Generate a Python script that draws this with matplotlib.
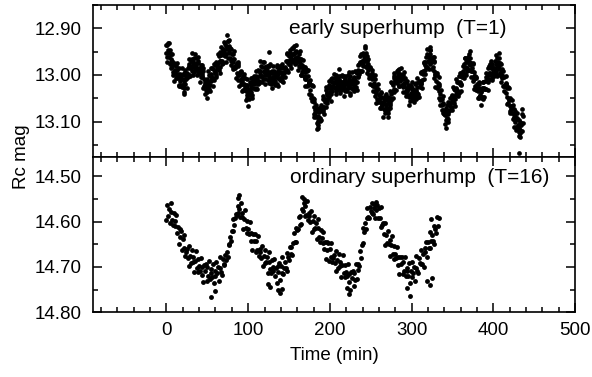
import matplotlib

matplotlib.use("Agg")
import matplotlib.pyplot as plt
from matplotlib.ticker import FormatStrFormatter, MultipleLocator

plt.rcParams["font.family"] = ["Liberation Sans", "DejaVu Sans"]

# --- early superhump (T=1): minutes since start, Rc readings ---
early_t = [
    0, 1, 2, 3, 4, 5, 6, 7, 8, 9, 10, 11, 12, 13, 14, 15, 16, 17, 18, 19,
    20, 21, 22, 23, 24, 25, 26, 27, 28, 29, 30, 31, 32, 33, 34, 35, 36, 37, 38, 39,
    40, 41, 42, 43, 44, 45, 46, 47, 48, 49, 50, 51, 52, 53, 54, 55, 56, 57, 58, 59,
    60, 61, 62, 63, 64, 65, 66, 67, 68, 69, 70, 71, 72, 73, 74, 75, 76, 77, 78, 79,
    80, 81, 82, 83, 84, 85, 86, 87, 88, 89, 90, 91, 92, 93, 94, 95, 96, 97, 98, 99,
    100, 101, 102, 103, 104, 105, 106, 107, 108, 109, 110, 111, 112, 113, 114, 115, 116, 117, 118, 119,
    120, 121, 122, 123, 124, 125, 126, 127, 128, 129, 130, 131, 132, 133, 134, 135, 136, 137, 138, 139,
    140, 141, 142, 143, 144, 145, 146, 147, 148, 149, 150, 151, 152, 153, 154, 155, 156, 157, 158, 159,
    160, 161, 162, 163, 164, 165, 166, 167, 168, 169, 170, 171, 172, 173, 174, 175, 176, 177, 178, 179,
    180, 181, 182, 183, 184, 185, 186, 187, 188, 189, 190, 191, 192, 193, 194, 195, 196, 197, 198, 199,
    200, 201, 202, 203, 204, 205, 206, 207, 208, 209, 210, 211, 212, 213, 214, 215, 216, 217, 218, 219,
    220, 221, 222, 223, 224, 225, 226, 227, 228, 229, 230, 231, 232, 233, 234, 235, 236, 237, 238, 239,
    240, 241, 242, 243, 244, 245, 246, 247, 248, 249, 250, 251, 252, 253, 254, 255, 256, 257, 258, 259,
    260, 261, 262, 263, 264, 265, 266, 267, 268, 269, 270, 271, 272, 273, 274, 275, 276, 277, 278, 279,
    280, 281, 282, 283, 284, 285, 286, 287, 288, 289, 290, 291, 292, 293, 294, 295, 296, 297, 298, 299,
    300, 301, 302, 303, 304, 305, 306, 307, 308, 309, 310, 311, 312, 313, 314, 315, 316, 317, 318, 319,
    320, 321, 322, 323, 324, 325, 326, 327, 328, 329, 330, 331, 332, 333, 334, 335, 336, 337, 338, 339,
    340, 341, 342, 343, 344, 345, 346, 347, 348, 349, 350, 351, 352, 353, 354, 355, 356, 357, 358, 359,
    360, 361, 362, 363, 364, 365, 366, 367, 368, 369, 370, 371, 372, 373, 374, 375, 376, 377, 378, 379,
    380, 381, 382, 383, 384, 385, 386, 387, 388, 389, 390, 391, 392, 393, 394, 395, 396, 397, 398, 399,
    400, 401, 402, 403, 404, 405, 406, 407, 408, 409, 410, 411, 412, 413, 414, 415, 416, 417, 418, 419,
    420, 421, 422, 423, 424, 425, 426, 427, 428, 429, 430, 431, 432, 433, 434, 435, 436,
]
early_mag_a = [
    12.953, 12.936, 12.953, 12.951, 12.977, 12.965, 12.954, 12.983, 12.993, 12.977,
    12.990, 12.997, 12.981, 13.007, 12.997, 13.022, 12.998, 13.009, 13.000, 13.026,
    13.009, 13.019, 12.996, 13.019, 13.007, 12.998, 13.005, 12.981, 13.001, 12.981,
    12.986, 12.965, 12.978, 12.972, 12.993, 12.978, 12.964, 12.987, 12.991, 12.974,
    12.985, 12.993, 12.978, 13.005, 12.997, 13.027, 13.008, 13.020, 13.012, 13.034,
    13.014, 13.023, 12.999, 13.022, 13.010, 13.000, 13.007, 12.987, 13.011, 12.991,
    12.996, 12.973, 12.985, 12.974, 12.990, 12.970, 12.950, 12.970, 12.971, 12.947,
    12.952, 12.954, 12.934, 12.954, 12.939, 12.963, 12.938, 12.950, 12.942, 12.970,
    12.956, 12.972, 12.956, 12.986, 12.982, 12.980, 12.995, 12.981, 13.011, 12.998,
    13.010, 12.994, 13.013, 13.009, 13.033, 13.020, 13.007, 13.035, 13.043, 13.025,
    13.035, 13.037, 13.016, 13.037, 13.022, 13.042, 13.013, 13.020, 13.008, 13.028,
    13.006, 13.014, 12.989, 13.012, 13.000, 12.993, 13.002, 12.983, 13.008, 12.991,
    13.000, 12.982, 12.998, 12.990, 13.010, 12.995, 12.980, 13.006, 13.013, 12.995,
    13.005, 13.009, 12.991, 13.013, 12.999, 13.019, 12.991, 12.998, 12.985, 13.011,
    12.994, 13.004, 12.982, 13.005, 12.994, 12.985, 12.992, 12.969, 12.991, 12.971,
    12.976, 12.953, 12.965, 12.955, 12.973, 12.955, 12.937, 12.963, 12.969, 12.951,
    12.962, 12.969, 12.954, 12.982, 12.975, 13.001, 12.978, 12.990, 12.982, 13.009,
    12.994, 13.009, 12.992, 13.022, 13.017, 13.016, 13.032, 13.022, 13.056, 13.049,
    13.068, 13.057, 13.081, 13.078, 13.103, 13.087, 13.072, 13.092, 13.093, 13.068,
    13.072, 13.073, 13.051, 13.069, 13.052, 13.069, 13.038, 13.043, 13.028, 13.047,
    13.024, 13.033, 13.009, 13.034, 13.024, 13.017, 13.027, 13.008, 13.034, 13.016,
    13.023, 13.003, 13.018, 13.012, 13.033, 13.017, 13.002, 13.025, 13.029, 13.008,
    13.015, 13.019, 13.001, 13.026, 13.015, 13.038, 13.013, 13.020, 13.008, 13.030,
    13.009, 13.018, 12.994, 13.015, 13.002, 12.991, 12.997, 12.972, 12.991, 12.969,
    12.973, 12.952, 12.965, 12.960, 12.983, 12.971, 12.960, 12.990, 13.001, 12.986,
    13.000, 13.009, 12.996, 13.024, 13.017, 13.044, 13.023, 13.036, 13.030, 13.057,
    13.042, 13.057, 13.039, 13.068, 13.062, 13.059, 13.072, 13.054, 13.081, 13.063,
    13.070, 13.048, 13.061, 13.049, 13.065, 13.041, 13.017, 13.034, 13.031, 13.006,
    13.010, 13.012, 12.991, 13.013, 12.999, 13.023, 12.998, 13.009, 13.000, 13.026,
    13.009, 13.024, 13.006, 13.036, 13.032, 13.029, 13.042, 13.027, 13.056, 13.039,
    13.048, 13.027, 13.041, 13.032, 13.050, 13.033, 13.017, 13.039, 13.041, 13.016,
    13.020, 13.018, 12.994, 13.011, 12.992, 13.008, 12.975, 12.978, 12.962, 12.982,
    12.959, 12.969, 12.946, 12.974, 12.967, 12.966, 12.982, 12.972, 13.006, 12.997,
    13.013, 13.001, 13.023, 13.023, 13.050, 13.041, 13.032, 13.064, 13.076, 13.063,
    13.078, 13.086, 13.071, 13.092, 13.077, 13.094, 13.063, 13.066, 13.050, 13.069,
    13.046, 13.054, 13.029, 13.052, 13.040, 13.030, 13.037, 13.015, 13.038, 13.016,
    13.020, 12.995, 13.005, 12.992, 13.007, 12.985, 12.964, 12.985, 12.986, 12.965,
    12.972, 12.979, 12.964, 12.992, 12.985, 13.013, 12.993, 13.007, 13.002, 13.032,
    13.019, 13.035, 13.019, 13.048, 13.042, 13.037, 13.049, 13.028, 13.051, 13.028,
    13.030, 13.004, 13.013, 13.000, 13.015, 12.996, 12.977, 12.999, 13.001, 12.980,
    12.988, 12.991, 12.971, 12.993, 12.979, 13.000, 12.973, 12.984, 12.975, 13.003,
    12.989, 13.007, 12.992, 13.024, 13.022, 13.022, 13.039, 13.028, 13.061, 13.051,
    13.066, 13.052, 13.073, 13.070, 13.095, 13.083, 13.072, 13.101, 13.111, 13.095,
    13.108, 13.113, 13.096, 13.117, 13.102, 13.119, 13.088,
]
early_mag_b = [
    12.936, 12.962, 12.947, 12.962, 12.947, 12.977, 12.973, 12.970, 12.999, 12.974,
    12.995, 12.992, 13.007, 12.990, 13.003, 12.986, 13.013, 13.004, 13.021, 13.000,
    13.021, 13.012, 13.027, 12.999, 13.009, 12.996, 12.984, 13.001, 12.966, 12.984,
    12.969, 12.991, 12.972, 12.983, 12.963, 12.990, 12.983, 12.974, 12.997, 12.971,
    12.990, 12.988, 13.004, 12.988, 13.003, 12.991, 13.023, 13.015, 13.033, 13.008,
    13.026, 13.016, 13.030, 13.002, 13.012, 12.998, 12.986, 13.007, 12.976, 12.994,
    12.979, 12.999, 12.979, 12.985, 12.960, 12.982, 12.969, 12.957, 12.977, 12.944,
    12.957, 12.949, 12.960, 12.937, 12.945, 12.927, 12.953, 12.945, 12.963, 12.944,
    12.968, 12.965, 12.987, 12.966, 12.984, 12.978, 12.974, 13.001, 12.976, 13.001,
    12.993, 13.020, 13.007, 13.020, 13.003, 13.032, 13.026, 13.022, 13.049, 13.022,
    13.040, 13.032, 13.042, 13.020, 13.028, 13.006, 13.028, 13.015, 13.029, 13.002,
    13.018, 13.007, 13.020, 12.992, 13.002, 12.991, 12.981, 13.003, 12.973, 12.994,
    12.983, 13.008, 12.992, 13.001, 12.980, 13.007, 12.999, 12.993, 13.019, 12.992,
    13.010, 13.004, 13.017, 12.996, 13.005, 12.983, 13.006, 12.993, 13.006, 12.985,
    13.006, 12.997, 13.013, 12.985, 12.996, 12.983, 12.971, 12.989, 12.956, 12.974,
    12.959, 12.979, 12.959, 12.966, 12.943, 12.967, 12.956, 12.950, 12.975, 12.948,
    12.967, 12.964, 12.980, 12.965, 12.981, 12.965, 12.993, 12.985, 13.003, 12.983,
    13.006, 13.002, 13.023, 13.002, 13.019, 13.014, 13.011, 13.042, 13.021, 13.052,
    13.051, 13.083, 13.075, 13.089, 13.073, 13.099, 13.091, 13.079, 13.099, 13.065,
    13.077, 13.068, 13.077, 13.052, 13.058, 13.033, 13.053, 13.038, 13.049, 13.021,
    13.036, 13.026, 13.040, 13.014, 13.026, 13.015, 13.006, 13.028, 12.999, 13.019,
    13.006, 13.029, 13.012, 13.023, 13.003, 13.029, 13.021, 13.012, 13.035, 13.005,
    13.020, 13.014, 13.027, 13.009, 13.021, 13.002, 13.028, 13.015, 13.029, 13.004,
    13.021, 13.011, 13.025, 12.995, 13.004, 12.989, 12.976, 12.992, 12.956, 12.972,
    12.956, 12.978, 12.959, 12.971, 12.953, 12.983, 12.979, 12.977, 13.007, 12.983,
    13.005, 13.004, 13.022, 13.007, 13.023, 13.008, 13.038, 13.031, 13.051, 13.031,
    13.054, 13.050, 13.070, 13.048, 13.064, 13.057, 13.051, 13.074, 13.046, 13.066,
    13.053, 13.074, 13.055, 13.060, 13.035, 13.053, 13.036, 13.021, 13.037, 13.003,
    13.015, 13.007, 13.017, 12.996, 13.005, 12.987, 13.013, 13.004, 13.021, 13.000,
    13.021, 13.017, 13.037, 13.016, 13.034, 13.027, 13.021, 13.047, 13.021, 13.042,
    13.031, 13.053, 13.035, 13.043, 13.020, 13.045, 13.036, 13.026, 13.047, 13.013,
    13.025, 13.013, 13.020, 12.994, 12.998, 12.972, 12.990, 12.973, 12.983, 12.956,
    12.971, 12.962, 12.977, 12.954, 12.969, 12.964, 12.961, 12.992, 12.971, 13.000,
    12.996, 13.027, 13.017, 13.034, 13.020, 13.053, 13.051, 13.051, 13.082, 13.060,
    13.083, 13.081, 13.097, 13.075, 13.083, 13.058, 13.078, 13.061, 13.071, 13.043,
    13.058, 13.047, 13.060, 13.032, 13.042, 13.028, 13.016, 13.035, 13.003, 13.019,
    13.003, 13.021, 12.999, 13.003, 12.977, 12.997, 12.983, 12.972, 12.992, 12.962,
    12.977, 12.974, 12.990, 12.975, 12.991, 12.977, 13.008, 13.002, 13.023, 13.006,
    13.031, 13.028, 13.050, 13.028, 13.044, 13.035, 13.028, 13.048, 13.016, 13.031,
    13.013, 13.030, 13.007, 13.011, 12.985, 13.008, 12.996, 12.986, 13.007, 12.977,
    12.993, 12.986, 12.997, 12.976, 12.985, 12.964, 12.988, 12.979, 12.996, 12.977,
    13.001, 13.000, 13.023, 13.004, 13.024, 13.020, 13.018, 13.048, 13.026, 13.054,
    13.049, 13.078, 13.067, 13.081, 13.065, 13.095, 13.091, 13.088, 13.117, 13.092,
    13.113, 13.108, 13.122, 13.100, 13.108, 13.083, 13.103,
]
# readings at the edges of the band, every other minute
early_edge_t = [
    1, 3, 5, 7, 9, 11, 13, 15, 17, 19, 21, 23, 25, 27, 29, 31, 33, 35, 37, 39,
    41, 43, 45, 47, 49, 51, 53, 55, 57, 59, 61, 63, 65, 67, 69, 71, 73, 75, 77, 79,
    81, 83, 85, 87, 89, 91, 93, 95, 97, 99, 101, 103, 105, 107, 109, 111, 113, 115, 117, 119,
    121, 123, 125, 127, 129, 131, 133, 135, 137, 139, 141, 143, 145, 147, 149, 151, 153, 155, 157, 159,
    161, 163, 165, 167, 169, 171, 173, 175, 177, 179, 181, 183, 185, 187, 189, 191, 193, 195, 197, 199,
    201, 203, 205, 207, 209, 211, 213, 215, 217, 219, 221, 223, 225, 227, 229, 231, 233, 235, 237, 239,
    241, 243, 245, 247, 249, 251, 253, 255, 257, 259, 261, 263, 265, 267, 269, 271, 273, 275, 277, 279,
    281, 283, 285, 287, 289, 291, 293, 295, 297, 299, 301, 303, 305, 307, 309, 311, 313, 315, 317, 319,
    321, 323, 325, 327, 329, 331, 333, 335, 337, 339, 341, 343, 345, 347, 349, 351, 353, 355, 357, 359,
    361, 363, 365, 367, 369, 371, 373, 375, 377, 379, 381, 383, 385, 387, 389, 391, 393, 395, 397, 399,
    401, 403, 405, 407, 409, 411, 413, 415, 417, 419, 421, 423, 425, 427, 429, 431, 433, 435,
]
early_edge_mag = [
    12.972, 12.931, 12.985, 12.956, 13.013, 12.976, 12.975, 13.024, 13.024, 12.986,
    13.036, 12.990, 13.027, 12.977, 13.002, 12.953, 13.001, 12.955, 12.999, 12.962,
    13.016, 12.979, 12.985, 13.040, 13.037, 12.991, 13.034, 12.985, 13.023, 12.977,
    13.005, 12.955, 12.996, 12.939, 12.974, 12.929, 12.972, 12.927, 12.926, 12.978,
    12.983, 12.949, 13.006, 12.973, 13.024, 12.991, 13.034, 12.998, 13.053, 13.009,
    13.051, 13.007, 13.050, 13.002, 12.992, 13.030, 13.018, 12.970, 13.016, 12.973,
    13.019, 12.980, 13.017, 12.976, 13.028, 12.980, 13.022, 12.979, 13.024, 12.981,
    12.976, 13.016, 13.005, 12.953, 12.994, 12.946, 12.985, 12.942, 12.977, 12.936,
    12.989, 12.948, 13.000, 12.968, 13.023, 12.987, 12.989, 13.041, 13.049, 13.023,
    13.091, 13.064, 13.114, 13.071, 13.097, 13.045, 13.084, 13.025, 13.060, 13.013,
    13.055, 13.007, 12.998, 13.040, 13.033, 12.988, 13.039, 13.000, 13.044, 13.002,
    13.035, 12.993, 13.043, 12.994, 13.035, 12.992, 13.032, 12.978, 12.960, 12.991,
    12.980, 12.938, 12.995, 12.965, 13.020, 12.990, 13.035, 13.001, 13.059, 13.019,
    13.070, 13.037, 13.090, 13.048, 13.041, 13.081, 13.070, 13.016, 13.050, 12.996,
    13.033, 12.989, 13.024, 12.984, 13.037, 12.994, 13.044, 13.012, 13.065, 13.023,
    13.016, 13.058, 13.051, 13.006, 13.047, 12.995, 13.027, 12.974, 12.997, 12.945,
    12.988, 12.939, 12.988, 12.962, 13.025, 12.996, 13.005, 13.064, 13.074, 13.045,
    13.104, 13.064, 13.100, 13.050, 13.076, 13.025, 13.066, 13.009, 13.044, 12.996,
    13.034, 12.980, 12.964, 13.000, 12.990, 12.948, 13.005, 12.975, 13.031, 13.004,
    13.050, 13.014, 13.065, 13.014, 13.047, 12.995, 13.032, 12.981, 12.970, 13.010,
    13.003, 12.957, 13.003, 12.964, 13.015, 12.987, 13.034, 13.002, 13.063, 13.027,
    13.082, 13.054, 13.112, 13.078, 13.081, 13.130, 13.124, 13.073,
]
early_extra_t = [2, 21, 49, 74, 100, 125, 184, 186, 243, 271, 323, 342, 370, 407, 431, 433]
early_extra_mag = [12.931, 13.040, 13.050, 12.915, 13.066, 12.951, 13.115, 13.108,
                   12.943, 13.090, 12.947, 13.114, 12.954, 12.952, 13.167, 13.133]

# --- ordinary superhump (T=16) ---
ordinary_t = [
    0, 1, 2, 3, 4, 5, 6, 7, 8, 9, 10, 11, 12, 13, 14, 15, 16, 17, 18, 19,
    20, 21, 22, 23, 24, 25, 26, 27, 28, 29, 30, 31, 32, 33, 34, 35, 36, 37, 38, 39,
    40, 41, 42, 43, 44, 45, 46, 47, 48, 49, 50, 51, 52, 53, 54, 55, 56, 57, 58, 59,
    60, 61, 62, 63, 64, 65, 66, 67, 68, 69, 70, 71, 72, 73, 74, 75, 76, 77, 78, 79,
    80, 81, 82, 83, 84, 85, 86, 87, 88, 89, 90, 91, 92, 93, 94, 95, 96, 97, 98, 99,
    100, 101, 102, 103, 104, 105, 106, 107, 108, 109, 110, 111, 112, 113, 114, 115, 116, 117, 118, 119,
    120, 121, 122, 123, 124, 125, 126, 127, 128, 129, 130, 131, 132, 133, 134, 135, 136, 137, 138, 139,
    140, 141, 142, 143, 144, 145, 146, 147, 148, 149, 150, 151, 152, 153, 154, 155, 156, 157, 158, 159,
    160, 161, 162, 163, 164, 165, 166, 167, 168, 169, 170, 171, 172, 173, 174, 175, 176, 177, 178, 179,
    180, 181, 182, 183, 184, 185, 186, 187, 188, 189, 190, 191, 192, 193, 194, 195, 196, 197, 198, 199,
    200, 201, 202, 203, 204, 205, 206, 207, 208, 209, 210, 211, 212, 213, 214, 215, 216, 217, 218, 219,
    220, 221, 222, 223, 224, 225, 226, 227, 228, 229, 230, 231, 232, 233, 234, 235, 236, 237, 238, 239,
    240, 241, 242, 243, 244, 245, 246, 247, 248, 249, 250, 251, 252, 253, 254, 255, 256, 257, 258, 259,
    260, 261, 262, 263, 264, 265, 266, 267, 268, 269, 270, 271, 272, 273, 274, 275, 276, 277, 278, 279,
    280, 281, 282, 283, 284, 285, 286, 287, 288, 289, 290, 291, 292, 293, 294, 295, 296, 297, 298, 299,
    300, 301, 302, 303, 304, 305, 306, 307, 308, 309, 310, 311, 312, 313, 314, 315, 316, 317, 318, 319,
    320, 321, 322, 323, 324, 325, 326, 327, 328, 329, 330, 331, 332, 333,
]
ordinary_mag = [
    14.596, 14.563, 14.587, 14.572, 14.603, 14.579, 14.558, 14.597, 14.608, 14.581,
    14.599, 14.610, 14.585, 14.626, 14.612, 14.650, 14.616, 14.634, 14.621, 14.662,
    14.638, 14.659, 14.630, 14.675, 14.667, 14.661, 14.680, 14.654, 14.699, 14.675,
    14.691, 14.662, 14.689, 14.678, 14.712, 14.686, 14.664, 14.702, 14.712, 14.683,
    14.699, 14.708, 14.680, 14.718, 14.700, 14.734, 14.696, 14.710, 14.693, 14.730,
    14.701, 14.719, 14.686, 14.726, 14.714, 14.705, 14.722, 14.693, 14.735, 14.708,
    14.721, 14.689, 14.713, 14.700, 14.731, 14.703, 14.677, 14.712, 14.718, 14.683,
    14.693, 14.695, 14.673, 14.684, 14.668, 14.678, 14.651, 14.650, 14.633, 14.642,
    14.620, 14.620, 14.595, 14.607, 14.593, 14.583, 14.586, 14.566, 14.582, 14.572,
    14.589, 14.560, 14.589, 14.580, 14.617, 14.594, 14.574, 14.614, 14.626, 14.599,
    14.617, 14.628, 14.602, 14.642, 14.626, 14.662, 14.627, 14.643, 14.628, 14.667,
    14.642, 14.662, 14.632, 14.675, 14.666, 14.660, 14.680, 14.654, 14.699, 14.675,
    14.691, 14.662, 14.689, 14.679, 14.713, 14.688, 14.666, 14.704, 14.714, 14.685,
    14.701, 14.709, 14.682, 14.719, 14.702, 14.736, 14.698, 14.711, 14.692, 14.728,
    14.698, 14.713, 14.678, 14.716, 14.702, 14.689, 14.703, 14.670, 14.709, 14.678,
    14.684, 14.657, 14.671, 14.655, 14.673, 14.648, 14.625, 14.644, 14.644, 14.615,
    14.619, 14.617, 14.590, 14.608, 14.588, 14.606, 14.573, 14.577, 14.560, 14.587,
    14.566, 14.585, 14.554, 14.597, 14.588, 14.582, 14.602, 14.576, 14.623, 14.599,
    14.616, 14.587, 14.614, 14.604, 14.638, 14.615, 14.595, 14.634, 14.646, 14.619,
    14.637, 14.647, 14.622, 14.661, 14.646, 14.682, 14.646, 14.662, 14.647, 14.686,
    14.660, 14.679, 14.648, 14.690, 14.680, 14.673, 14.692, 14.665, 14.710, 14.685,
    14.702, 14.672, 14.699, 14.688, 14.722, 14.696, 14.674, 14.713, 14.723, 14.695,
    14.711, 14.721, 14.694, 14.733, 14.716, 14.750, 14.712, 14.725, 14.708, 14.743,
    14.713, 14.728, 14.694, 14.727, 14.706, 14.693, 14.697, 14.664, 14.681, 14.651,
    14.647, 14.615, 14.623, 14.603, 14.616, 14.592, 14.570, 14.590, 14.591, 14.568,
    14.577, 14.580, 14.559, 14.583, 14.569, 14.592, 14.563, 14.574, 14.564, 14.591,
    14.570, 14.593, 14.567, 14.613, 14.607, 14.604, 14.627, 14.603, 14.652, 14.629,
    14.648, 14.620, 14.649, 14.640, 14.676, 14.652, 14.632, 14.671, 14.682, 14.654,
    14.671, 14.681, 14.656, 14.695, 14.679, 14.715, 14.678, 14.694, 14.678, 14.716,
    14.690, 14.709, 14.679, 14.720, 14.710, 14.702, 14.720, 14.692, 14.735, 14.709,
    14.723, 14.690, 14.714, 14.700, 14.731, 14.702, 14.675, 14.709, 14.714, 14.680,
    14.691, 14.694, 14.662, 14.694, 14.672, 14.701, 14.658, 14.667, 14.646, 14.678,
    14.645, 14.658, 14.622, 14.658, 14.642, 14.629, 14.643, 14.610, 14.649, 14.617,
    14.626, 14.589, 14.609, 14.591,
]
ordinary_extra_t = [55, 60, 87, 89, 124, 127, 137, 139, 141, 166, 168, 221, 224,
                    254, 257, 294, 298, 319, 322, 325, 324]
ordinary_extra_mag = [14.766, 14.754, 14.549, 14.541, 14.737, 14.744, 14.751, 14.757,
                      14.749, 14.545, 14.551, 14.747, 14.759, 14.562, 14.556, 14.747,
                      14.764, 14.731, 14.739, 14.724, 14.594]

LABEL_SIZE = 13.5
NOTE_SIZE = 15


def _style(ax, ylim):
    ax.set_xlim(-90, 500)
    ax.set_ylim(*ylim)
    ax.xaxis.set_major_locator(MultipleLocator(100))
    ax.xaxis.set_minor_locator(MultipleLocator(20))
    ax.yaxis.set_major_locator(MultipleLocator(0.1))
    ax.yaxis.set_minor_locator(MultipleLocator(0.05))
    ax.yaxis.set_major_formatter(FormatStrFormatter("%.2f"))
    ax.tick_params(which="both", direction="in", top=True, right=True,
                   width=1.1, labelsize=LABEL_SIZE)
    ax.tick_params(which="major", length=6.5)
    ax.tick_params(which="minor", length=3.5)
    ax.tick_params(axis="y", pad=8)
    ax.tick_params(axis="x", pad=7)
    for spine in ax.spines.values():
        spine.set_linewidth(1.2)


def _dots(ax, t, mag, size):
    ax.plot(t, mag, "o", ls="none", ms=size, color="black", mew=0)


fig = plt.figure(figsize=(5.92, 3.77), dpi=100)
ax_top = fig.add_axes([0.157, 0.5844, 0.8142, 0.4024])
ax_bot = fig.add_axes([0.157, 0.1716, 0.8142, 0.4127])

_dots(ax_top, early_t, early_mag_a, 3.4)
_dots(ax_top, early_t, early_mag_b, 3.4)
_dots(ax_top, early_edge_t, early_edge_mag, 3.4)
_dots(ax_top, early_extra_t, early_extra_mag, 3.4)
_style(ax_top, (13.175, 12.85))
ax_top.tick_params(labelbottom=False)
ax_top.text(416, 12.90, "early superhump  (T=1)", ha="right", va="center",
            fontsize=NOTE_SIZE)

_dots(ax_bot, ordinary_t, ordinary_mag, 3.5)
_dots(ax_bot, ordinary_extra_t, ordinary_extra_mag, 3.5)
_style(ax_bot, (14.80, 14.457))
ax_bot.text(469, 14.503, "ordinary superhump  (T=16)", ha="right", va="center",
            fontsize=NOTE_SIZE)
ax_bot.set_xlabel("Time (min)", fontsize=LABEL_SIZE, labelpad=6)

fig.text(0.036, 1 - 157 / 377, "Rc mag", rotation=90, ha="center", va="center",
         fontsize=LABEL_SIZE)

fig.savefig("out.png", dpi=100)
